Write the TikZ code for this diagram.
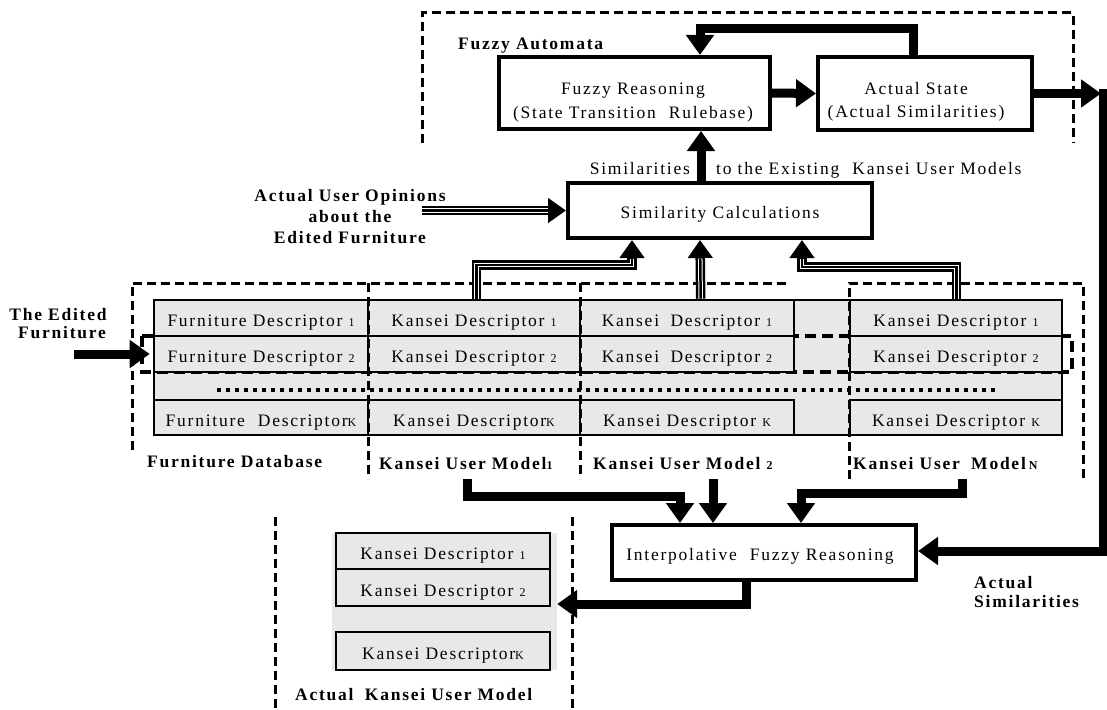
\documentclass[tikz,border=0pt]{standalone}
\usepackage{fontspec}
\setmainfont{Liberation Serif}[LetterSpace=10]
\usetikzlibrary{arrows.meta,calc}
\definecolor{cellgray}{RGB}{232,232,232}
\newcommand{\smallidx}[1]{{\fontsize{12}{12}\selectfont #1}}
\begin{document}
\begin{tikzpicture}[x=1pt,y=-1pt,
  every node/.style={font=\fontsize{17.5}{21}\selectfont, inner sep=0pt},
  lbl/.style={font=\fontsize{17.5}{21}\selectfont\bfseries},
  box/.style={draw, line width=4pt, fill=white},
  cell/.style={draw, line width=2.6pt, fill=cellgray, text height=17pt, text depth=0pt},
  region/.style={line width=3pt, dash pattern=on 9pt off 5pt},
  hl/.style={line width=3.5pt, dash pattern=on 11pt off 6pt},
  dotline/.style={line width=3.5pt, dash pattern=on 4pt off 5pt},
  fat/.style={line width=9pt, -{Triangle[length=20pt,width=27pt]}},
  tri/.style={line width=9.5pt, -{Triangle[length=18pt,width=24pt]},
    postaction={draw=white, line width=4.5pt, -, shorten >=18.5pt},
    postaction={draw=black, line width=2.5pt, -, shorten >=18.5pt}}
]
\useasboundingbox (0,0) rectangle (1107,709);

% ---------- Fuzzy automata region ----------
\draw[region] (422,143) -- (422,13) -- (1073,13) -- (1073,143);
\node[lbl, anchor=base west] (fatitle) at (458,50) {Fuzzy Automata};
\node[box, minimum width=271pt, minimum height=72pt] (fr) at (634.5,93) {};
\node[anchor=base] (frt1) at (633,94.5) {Fuzzy Reasoning};
\node[anchor=base] (frt2) at (633,118.5) {(State Transition\hspace{0.4em} Rulebase)};
\node[box, minimum width=214pt, minimum height=73pt] (st) at (925,93.5) {};
\node[anchor=base] (stt1) at (916,94.5) {Actual State};
\node[anchor=base] (stt2) at (916,117.5) {(Actual Similarities)};

% ---------- Similarity calculations ----------
\node[box, minimum width=304pt, minimum height=55pt] (sim) at (720,210.5) {};
\node[anchor=base] (simt) at (720,218) {Similarity Calculations};
\node[anchor=base east] (simlbl) at (690,174) {Similarities};
\node[anchor=base west] (simlbl2) at (716,174) {to the Existing\hspace{0.4em} Kansei User Models};

\node[lbl, anchor=base] (auo1) at (350,201.5) {Actual User Opinions};
\node[lbl, anchor=base] (auo2) at (350,222.5) {about the};
\node[lbl, anchor=base] (auo3) at (350,243.5) {Edited Furniture};

% ---------- Database table ----------
\node[draw, fill=cellgray, line width=2.6pt, minimum width=908pt, minimum height=135pt] (table) at (608,367.5) {};
\draw[hl] (142,336) rectangle (1072,372);

\node[cell, minimum width=214pt, minimum height=36pt] (c0r1) at (261,318) {Furniture Descriptor \smallidx{1}};
\node[cell, minimum width=214pt, minimum height=36pt] (c0r2) at (261,354) {Furniture Descriptor \smallidx{2}};
\node[cell, minimum width=214pt, minimum height=35pt] (c0rk) at (261,417.5) {Furniture\hspace{0.4em} Descriptor\smallidx{K}};

\node[cell, minimum width=212pt, minimum height=36pt] (c1r1) at (474,318) {Kansei Descriptor \smallidx{1}};
\node[cell, minimum width=212pt, minimum height=36pt] (c1r2) at (474,354) {Kansei Descriptor \smallidx{2}};
\node[cell, minimum width=212pt, minimum height=35pt] (c1rk) at (474,417.5) {Kansei Descriptor\smallidx{K}};

\node[cell, minimum width=214pt, minimum height=36pt] (c2r1) at (687,318) {Kansei\hspace{0.3em} Descriptor \smallidx{1}};
\node[cell, minimum width=214pt, minimum height=36pt] (c2r2) at (687,354) {Kansei\hspace{0.3em} Descriptor \smallidx{2}};
\node[cell, minimum width=214pt, minimum height=35pt] (c2rk) at (687,417.5) {Kansei Descriptor \smallidx{K}};

\node[cell, minimum width=212pt, minimum height=36pt] (cNr1) at (956,318) {Kansei Descriptor \smallidx{1}};
\node[cell, minimum width=212pt, minimum height=36pt] (cNr2) at (956,354) {Kansei Descriptor \smallidx{2}};
\node[cell, minimum width=212pt, minimum height=35pt] (cNrk) at (956,417.5) {Kansei Descriptor \smallidx{K}};

\draw[dotline] (217,390) -- (996,390);

% region borders of the database and user models
\draw[region] (132,450) -- (132,283) -- (790,283);
\draw[region] (368,283) -- (368,479);
\draw[region] (580,283) -- (580,479);
\draw[region] (849,479) -- (849,283) -- (1083,283) -- (1083,479);

\node[lbl, anchor=base west] (dblbl) at (147,467) {Furniture Database};
\node[lbl, anchor=base west] (m1lbl) at (379,469) {Kansei User Model\smallidx{1}};
\node[lbl, anchor=base west] (m2lbl) at (593,469) {Kansei User Model \smallidx{2}};
\node[lbl, anchor=base west] (mNlbl) at (853,469) {Kansei User\hspace{0.3em} Model\,\smallidx{N}};

\node[lbl, anchor=base] (ef1) at (58,320) {The Edited};
\node[lbl, anchor=base] (ef2) at (62,338) {Furniture};

% ---------- Interpolative fuzzy reasoning ----------
\node[box, minimum width=304pt, minimum height=55pt] (interp) at (764,552.5) {};
\node[anchor=base] (interpt) at (760,560) {Interpolative\hspace{0.4em} Fuzzy Reasoning};

% ---------- Actual Kansei user model ----------
\draw[region] (275,517) -- (275,709);
\draw[region] (572,517) -- (572,709);
\node[fill=cellgray, minimum width=225pt, minimum height=137pt] (akm) at (444.5,601.5) {};
\node[cell, minimum width=214pt, minimum height=36pt] (ak1) at (443,551) {Kansei Descriptor \smallidx{1}};
\node[cell, minimum width=214pt, minimum height=37pt] (ak2) at (443,587.5) {Kansei Descriptor \smallidx{2}};
\node[cell, minimum width=214pt, minimum height=38pt] (akk) at (443,651) {Kansei Descriptor\smallidx{K}};
\node[lbl, anchor=base west] (aklbl) at (295,700) {Actual\hspace{0.3em} Kansei User Model};

\node[lbl, anchor=base west] (as1) at (974,588) {Actual};
\node[lbl, anchor=base west] (as2) at (974,607) {Similarities};

% ---------- connectors ----------
\coordinate (auo) at (422,210.5);
\coordinate (efs) at (74,354);
\coordinate (m1) at (467,479);
\coordinate (m2) at (713,479);
\coordinate (mN) at (962,479);
\coordinate (rc) at (1103,93.5);

\draw[fat] (fr.east) -- (st.west);
\draw[fat] ($(st.north west)+(97,0)$) -- ++(0,-26.5) -| ($(fr.north west)+(203,0)$);
\draw[fat] ($(sim.north west)+(135,0)$) -- ($(fr.south west)+(204,0)$);
\draw[fat] (st.east) -- ($(rc)+(-2,0)$);
\draw[fat] ($(rc)+(0,-4.5)$) |- ($(interp.east)+(0,-1.5)$);

\draw[tri] (auo) -- (sim.west);
\draw[tri] ($(c1r1.north west)+(110,0)$) |- ($(sim.south west)+(66,25)$) -- ($(sim.south west)+(66,0)$);
\draw[tri] ($(c2r1.north west)+(122,0)$) -- ($(sim.south west)+(134,0)$);
\draw[tri] ($(cNr1.north west)+(108,0)$) |- ($(sim.south west)+(236,27)$) -- ($(sim.south west)+(236,0)$);

\draw[fat] (efs) -- ($(c0r2.west)+(-3,0)$);

\draw[fat] (m1) |- ($(interp.north west)+(70,-27)$) -- ($(interp.north west)+(70,0)$);
\draw[fat] (m2) -- (m2 |- interp.north);
\draw[fat] (mN) |- ($(interp.north west)+(191,-30)$) -- ($(interp.north west)+(191,0)$);
\draw[fat] ($(interp.south west)+(136,0)$) |- ($(akm.east)+(0,2.5)$);
\end{tikzpicture}
\end{document}
